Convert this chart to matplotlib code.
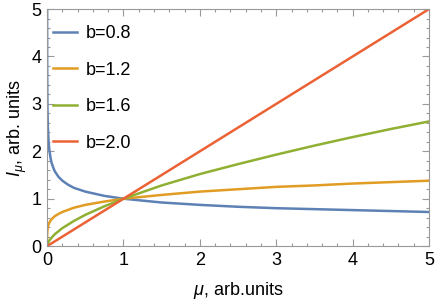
import matplotlib
matplotlib.use("Agg")
import matplotlib.pyplot as plt
from matplotlib.ticker import MultipleLocator

plt.rcParams.update({
    "font.family": ["Liberation Sans", "DejaVu Sans"],
    "mathtext.fontset": "custom",
    "mathtext.rm": "Liberation Sans",
    "mathtext.it": "Liberation Sans:italic",
    "font.size": 13,
})

# values
mu_08 = [0.0003, 0.0006, 0.001, 0.002, 0.003, 0.005, 0.01, 0.02, 0.03, 0.045,
         0.06, 0.08, 0.1, 0.15, 0.2, 0.27, 0.35, 0.5, 0.75,
         1.0, 1.5, 2.0, 2.5, 3.0, 3.5, 4.0, 4.5, 5.0]
I_08 = [5.0, 4.37, 3.98, 3.47, 3.20, 2.88, 2.51, 2.19, 2.02, 1.86,
        1.75, 1.66, 1.58, 1.46, 1.38, 1.30, 1.23, 1.15, 1.06,
        1.0, 0.92, 0.87, 0.83, 0.80, 0.78, 0.76, 0.74, 0.72]

mu_12 = [0.0, 0.0003, 0.001, 0.003, 0.01, 0.02, 0.03, 0.06, 0.1, 0.15, 0.2,
         0.35, 0.5, 0.75, 1.0, 1.5, 2.0, 2.5, 3.0, 3.5, 4.0, 4.5, 5.0]
I_12 = [0.0, 0.20, 0.25, 0.31, 0.40, 0.46, 0.50, 0.57, 0.63, 0.68, 0.72,
        0.81, 0.87, 0.94, 1.0, 1.08, 1.15, 1.20, 1.25, 1.28, 1.32, 1.35, 1.38]

mu_16 = [0.0, 0.003, 0.01, 0.03, 0.06, 0.1, 0.2, 0.35, 0.5, 0.75,
         1.0, 1.5, 2.0, 2.5, 3.0, 3.5, 4.0, 4.5, 5.0]
I_16 = [0.0, 0.03, 0.06, 0.12, 0.18, 0.25, 0.38, 0.53, 0.66, 0.84,
        1.0, 1.28, 1.52, 1.73, 1.93, 2.12, 2.30, 2.47, 2.63]

mu_20 = [0.0, 1.0, 5.0]
I_20 = [0.0, 1.0, 5.0]

series = [
    ("b=0.8", mu_08, I_08, "#5E81B5"),
    ("b=1.2", mu_12, I_12, "#E19C24"),
    ("b=1.6", mu_16, I_16, "#8FB032"),
    ("b=2.0", mu_20, I_20, "#EB6235"),
]

fig = plt.figure(figsize=(4.36, 3.02), dpi=100)
ax = fig.add_axes([0.108, 0.185, 0.876, 0.785])

for label, x, y, c in series:
    ax.plot(x, y, color=c, lw=1.8, label=label)

ax.set_xlim(0, 5)
ax.set_ylim(0, 5)
ax.xaxis.set_major_locator(MultipleLocator(1))
ax.yaxis.set_major_locator(MultipleLocator(1))
ax.xaxis.set_minor_locator(MultipleLocator(0.2))
ax.yaxis.set_minor_locator(MultipleLocator(0.2))
ax.tick_params(which="both", direction="in", top=True, right=True,
               color="#999999", width=0.8, labelsize=13, pad=4)
ax.tick_params(which="major", length=5)
ax.tick_params(which="minor", length=2.5)
for s in ax.spines.values():
    s.set_color("#999999")
    s.set_linewidth(0.8)

ax.set_xlabel(r"$\mu$, arb.units", fontsize=13, labelpad=8)
ax.set_ylabel(r"$I_\mu$, arb. units", fontsize=13, labelpad=2)

ax.legend(loc="upper left", bbox_to_anchor=(0, 0.955), frameon=False,
          fontsize=13, handlelength=1.33, labelspacing=1.08,
          borderaxespad=0, borderpad=0.3, handletextpad=0.5)

fig.savefig("out.png", dpi=100)
